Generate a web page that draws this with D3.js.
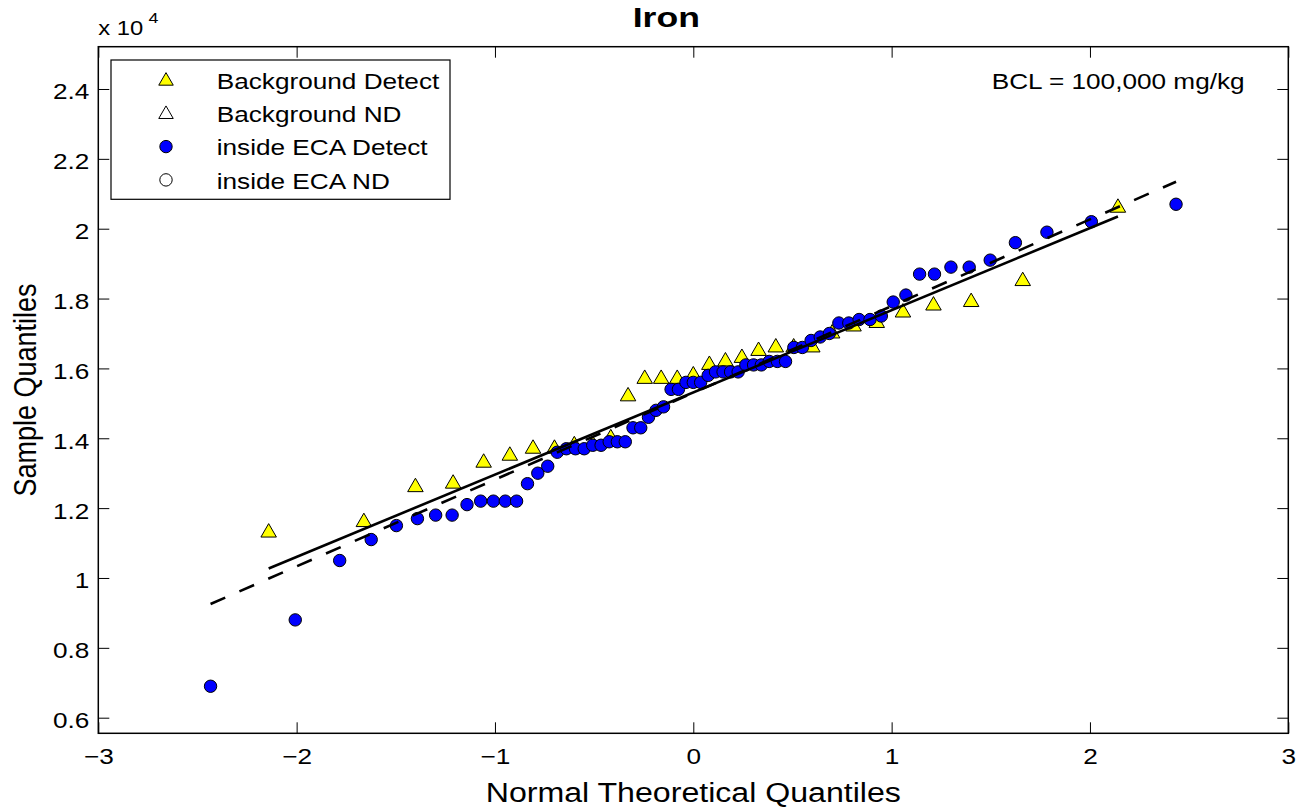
<!DOCTYPE html>
<html><head><meta charset="utf-8">
<script src="https://cdn.jsdelivr.net/npm/d3@7"></script>
<style>
body{margin:0;background:#fff}
svg{display:block}
text{font-family:"Liberation Sans",Arial,Helvetica,sans-serif;fill:#000}
</style>
</head><body>
<svg id="c" width="1309" height="812"></svg>
<script>
// ---- data (sample values in units of 10^4 mg/kg) ----
const bgX = [-2.141,-1.661,-1.401,-1.211,-1.057,-0.925,-0.808,-0.700,-0.600,-0.506,-0.416,-0.329,-0.245,-0.162,-0.081,0,
             0.081,0.162,0.245,0.329,0.416,0.506,0.600,0.700,0.808,0.925,1.057,1.211,1.401,1.661,2.141];
const bgY = [1.13,1.16,1.26,1.27,1.33,1.35,1.37,1.37,1.38,1.38,1.40,1.52,1.57,1.57,1.57,1.58,
             1.61,1.62,1.63,1.65,1.66,1.66,1.66,1.70,1.72,1.73,1.76,1.78,1.79,1.85,2.06];
const ecaX = [-2.434,-2.007,-1.783,-1.624,-1.497,-1.391,-1.299,-1.216,-1.141,-1.072,-1.008,-0.948,-0.891,-0.836,-0.784,-0.734,
              -0.686,-0.640,-0.594,-0.550,-0.507,-0.465,-0.424,-0.383,-0.343,-0.304,-0.265,-0.226,-0.188,-0.150,-0.112,-0.075,-0.037,0,
              0.037,0.075,0.112,0.150,0.188,0.226,0.265,0.304,0.343,0.383,0.424,0.465,0.507,0.550,0.594,0.640,0.686,
              0.734,0.784,0.836,0.891,0.948,1.008,1.072,1.141,1.216,1.299,1.391,1.497,1.624,1.783,2.007,2.434];
const ecaY = [0.69,0.88,1.05,1.11,1.15,1.17,1.18,1.18,1.21,1.22,1.22,1.22,1.22,1.27,1.30,1.32,1.36,1.37,1.37,1.37,
              1.38,1.38,1.39,1.39,1.39,1.43,1.43,1.46,1.48,1.49,1.54,1.54,1.56,1.56,1.56,1.58,1.59,1.59,1.59,1.59,
              1.61,1.61,1.61,1.62,1.62,1.62,1.66,1.66,1.68,1.69,1.70,1.73,1.73,1.74,1.74,1.75,1.79,1.81,1.87,1.87,
              1.89,1.89,1.91,1.96,1.99,2.02,2.07];
const xTicks = [-3,-2,-1,0,1,2,3];
const yTicks = [0.6,0.8,1,1.2,1.4,1.6,1.8,2,2.2,2.4];
const xLimits = [-3,3];
const yLimits = [0.5553,2.5211];
const legendLabels = ["Background Detect","Background ND","inside ECA Detect","inside ECA ND"];
const titleText = "Iron";
const xLabel = "Normal Theoretical Quantiles";
const yLabel = "Sample Quantiles";
const noteText = "BCL = 100,000 mg/kg";

// ---- layout ----
const SX = 1.19;               // horizontal stretch of the figure's text
const L = 98.3, R = 1288.3, T = 46.7, B = 733.3;
const svg = d3.select("#c");
const x = d3.scaleLinear().domain(xLimits).range([L, R]);
const y = d3.scaleLinear().domain(yLimits).range([B, T]);

function txt(x0, y0, str, size, anchor, weight, rot, sx) {
  return svg.append("text")
    .attr("transform", `translate(${x0},${y0}) scale(${sx || SX},1)` + (rot ? ` rotate(${rot})` : ""))
    .attr("text-anchor", anchor || "start")
    .style("font-size", size + "px")
    .style("font-weight", weight || "normal")
    .text(str);
}

// axes
const fmtX = d => d < 0 ? "\u2212" + Math.abs(d) : String(d);
const gB = svg.append("g").attr("transform", `translate(0,${B})`)
  .call(d3.axisBottom(x).tickValues(xTicks).tickSize(-11).tickSizeOuter(0).tickPadding(15).tickFormat(fmtX));
const gT = svg.append("g").attr("transform", `translate(0,${T})`)
  .call(d3.axisTop(x).tickValues(xTicks).tickSize(-11).tickSizeOuter(0).tickFormat(""));
const gL = svg.append("g").attr("transform", `translate(${L},0)`)
  .call(d3.axisLeft(y).tickValues(yTicks).tickSize(-11).tickSizeOuter(0).tickPadding(9).tickFormat(d => String(d)));
const gR = svg.append("g").attr("transform", `translate(${R},0)`)
  .call(d3.axisRight(y).tickValues(yTicks).tickSize(-11).tickSizeOuter(0).tickFormat(""));
[gB, gT, gL, gR].forEach(g => {
  g.select(".domain").remove();
  g.selectAll(".tick line").attr("stroke", "#000").attr("stroke-width", 1);
});
gB.selectAll(".tick text").style("font-size", "22px").attr("fill", "#000")
  .attr("transform", `scale(${SX},1)`);
gL.selectAll(".tick text").style("font-size", "22px").attr("fill", "#000")
  .attr("dy", "0.45em").attr("x", -9 / SX).attr("transform", `scale(${SX},1)`);
[gB, gL].forEach(g => g.selectAll("text").style("font-family", '"Liberation Sans",Arial,sans-serif'));

svg.append("rect").attr("x", L).attr("y", T).attr("width", R - L).attr("height", B - T)
  .attr("fill", "none").attr("stroke", "#000").attr("stroke-width", 1.5);

// markers
const triSize = Math.sqrt(3) / 4 * 15.5 * 15.5;
const tri = d3.symbol().type(d3.symbolTriangle).size(triSize);
svg.append("g").selectAll("path").data(bgX.map((v, i) => [v, bgY[i]])).join("path")
  .attr("d", tri).attr("transform", d => `translate(${x(d[0])},${y(d[1])})`)
  .attr("fill", "#ffff00").attr("stroke", "#000").attr("stroke-width", 1);
svg.append("g").selectAll("circle").data(ecaX.map((v, i) => [v, ecaY[i]])).join("circle")
  .attr("cx", d => x(d[0])).attr("cy", d => y(d[1])).attr("r", 6.2)
  .attr("fill", "#0000ff").attr("stroke", "#000").attr("stroke-width", 1);

// reference lines (MATLAB qqplot: through 1st and 3rd quartiles, spanning the data's x range)
function prc(arr, p) {
  const s = arr.slice().sort((a, b) => a - b), n = s.length;
  const pos = p * n + 0.5;
  const lo = Math.floor(pos), f = pos - lo;
  return s[lo - 1] + f * (s[lo] - s[lo - 1]);
}
function refLine(xs, ys) {
  const q1 = prc(ys, 0.25), q3 = prc(ys, 0.75), z = 0.6744897501960817;
  const slope = (q3 - q1) / (2 * z), mid = (q1 + q3) / 2;
  const x0 = d3.min(xs), x1 = d3.max(xs);
  return [[x0, mid + slope * x0], [x1, mid + slope * x1]];
}
const ln = d3.line().x(d => x(d[0])).y(d => y(d[1]));
svg.append("path").attr("d", ln(refLine(bgX, bgY))).attr("fill", "none")
  .attr("stroke", "#000").attr("stroke-width", 2.6);
svg.append("path").attr("d", ln(refLine(ecaX, ecaY))).attr("fill", "none")
  .attr("stroke", "#000").attr("stroke-width", 2.6).attr("stroke-dasharray", "16,15.5");

// legend
const lg = svg.append("g");
lg.append("rect").attr("x", 111).attr("y", 60).attr("width", 339).attr("height", 139.3)
  .attr("fill", "#fff").attr("stroke", "#000").attr("stroke-width", 1.2);
const legTri = d3.symbol().type(d3.symbolTriangle).size(Math.sqrt(3) / 4 * 14.5 * 14.5);
legendLabels.forEach((lab, i) => {
  const cy = 80 + i * 33.3;
  if (i < 2) {
    lg.append("path").attr("d", legTri).attr("transform", `translate(166,${cy + 1})`)
      .attr("fill", i === 0 ? "#ffff00" : "#fff").attr("stroke", "#000").attr("stroke-width", 1);
  } else {
    lg.append("circle").attr("cx", 166).attr("cy", cy).attr("r", 6.2)
      .attr("fill", i === 2 ? "#0000ff" : "#fff").attr("stroke", "#000").attr("stroke-width", 1);
  }
  txt(216.7, cy + 8.6, lab, 22);
});

// texts
txt(666.3, 26.5, titleText, 28, "middle", "bold", 0, 1.27);
txt(693.3, 802, xLabel, 27, "middle");
txt(36, 390, yLabel, 27, "middle", "normal", -90);
txt(98.3, 35, "x 10", 20);
txt(148.5, 22.7, "4", 15);
txt(991.7, 89.3, noteText, 22);
</script>
</body></html>
